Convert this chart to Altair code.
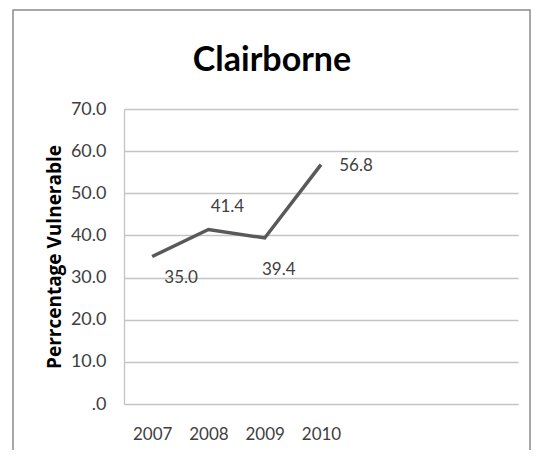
import altair as alt
import pandas as pd

years = [2007, 2008, 2009, 2010]
values = [35.0, 41.4, 39.4, 56.8]
y_ticks = [0, 10, 20, 30, 40, 50, 60, 70]

df = pd.DataFrame({"year": years, "value": values})

FONT = "Lato"
GRID = "#c4c4c4"
TXT = "#404040"

x = alt.X(
    "year:Q",
    scale=alt.Scale(domain=[2006.5, 2013.5], nice=False, zero=False),
    axis=alt.Axis(values=years, format="d", title=None, grid=False, ticks=False,
                  tickSize=0, domain=False, labelFontSize=17, labelPadding=22,
                  labelColor=TXT, labelFont=FONT, labelBaseline="top"),
)
y = alt.Y(
    "value:Q",
    scale=alt.Scale(domain=[0, 70], nice=False),
    axis=alt.Axis(values=y_ticks,
                  labelExpr="datum.value == 0 ? '.0' : format(datum.value, '.1f')",
                  title="Perrcentage Vulnerable", titleFont="Open Sans", titleFontSize=19,
                  titleFontWeight="bold", titleColor="black",
                  titleX=-70, titleY=147.5, titleAlign="center", titleBaseline="middle",
                  domain=True, domainColor=GRID, domainWidth=1.3,
                  ticks=False, tickSize=0, grid=True, gridColor=GRID, gridWidth=1.3,
                  labelFont=FONT, labelFontSize=18, labelColor=TXT, labelPadding=18),
)

base = alt.Chart(df)

border = alt.Chart(pd.DataFrame({"a": [0]})).mark_rect(
    fill="white", fillOpacity=0, stroke="#8c8c8c", strokeWidth=1.5
).encode(x=alt.value(-111), x2=alt.value(406), y=alt.value(-99), y2=alt.value(420))

line = base.mark_line(color="#595959", strokeWidth=3.5).encode(x=x, y=y)

def label(year, dx, dy):
    return base.transform_filter(alt.datum.year == year).mark_text(
        font=FONT, fontSize=17, color=TXT, align="center", baseline="middle", dx=dx, dy=dy
    ).encode(x=x, y=y, text=alt.Text("value:Q", format=".1f"))

labels = [label(2007, 29, 21), label(2008, 19, -23), label(2009, 14, 32), label(2010, 35, 1)]

chart = alt.layer(border, line, *labels).properties(
    width=394,
    height=295,
    autosize=alt.AutoSizeParams(type="none"),
    padding={"left": 116, "top": 101, "right": 14, "bottom": 46},
    title=alt.TitleParams("Clairborne", font=FONT, fontSize=34, fontWeight="bold",
                          color="black", anchor="middle", baseline="alphabetic",
                          dx=-49, dy=106, offset=10),
    background="white",
).configure_view(strokeWidth=0)

chart.save("out.html", embed_options={"renderer": "svg", "actions": False})
